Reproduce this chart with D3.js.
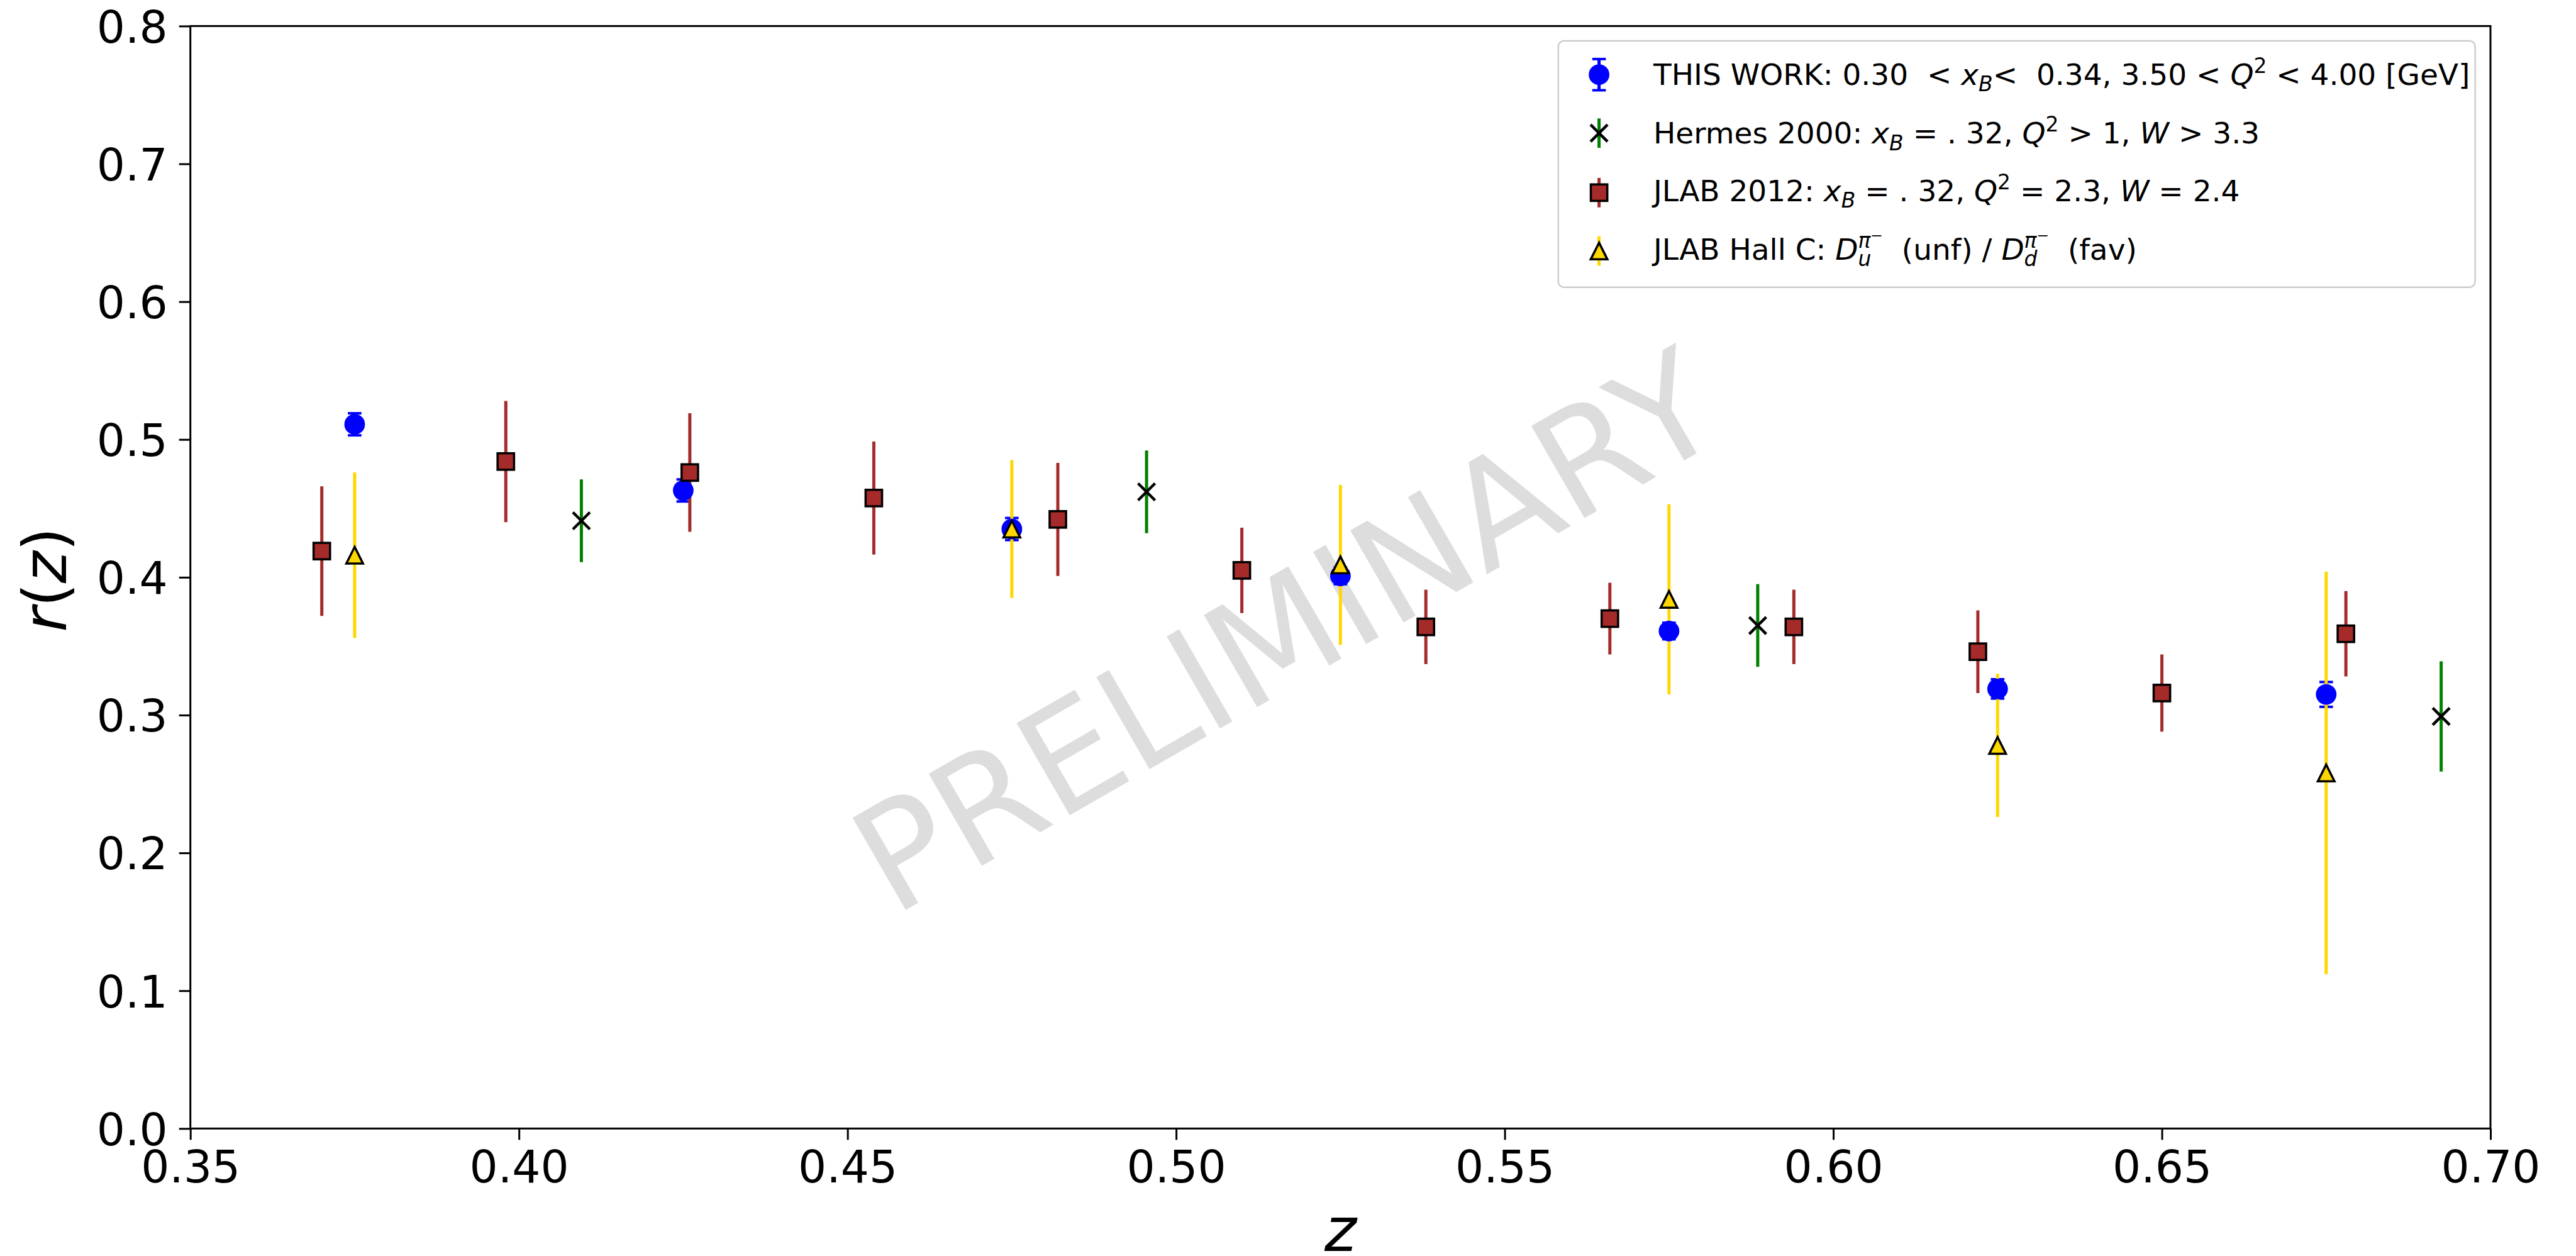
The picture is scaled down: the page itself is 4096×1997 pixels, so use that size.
<!DOCTYPE html>
<html>
<head>
<meta charset="utf-8">
<script src="https://cdn.jsdelivr.net/npm/d3@7"></script>
<style>
  html, body { margin: 0; padding: 0; background: #ffffff; }
  svg { display: block; }
  text { font-family: "DejaVu Sans", sans-serif; fill: #000; }
</style>
</head>
<body>
<svg id="chart" width="4096" height="1997"></svg>
<script>
// ---- axis ticks ----
const zTicks = [0.35, 0.40, 0.45, 0.50, 0.55, 0.60, 0.65, 0.70];
const rTicks = [0.0, 0.1, 0.2, 0.3, 0.4, 0.5, 0.6, 0.7, 0.8];

// ---- THIS WORK ----
const workZ   = [0.375, 0.425, 0.475, 0.525, 0.575, 0.625, 0.675];
const workR   = [0.511, 0.463, 0.435, 0.401, 0.361, 0.319, 0.315];
const workErr = [0.008, 0.008, 0.008, 0.006, 0.006, 0.007, 0.009];

// ---- Hermes 2000 ----
const hermesZ   = [0.4095, 0.4955, 0.5885, 0.6925];
const hermesR   = [0.441, 0.462, 0.365, 0.299];
const hermesErr = [0.030, 0.030, 0.030, 0.040];

// ---- JLAB 2012 ----
const jlabZ   = [0.370, 0.398, 0.426, 0.454, 0.482, 0.510, 0.538, 0.566, 0.594, 0.622, 0.650, 0.678];
const jlabR   = [0.419, 0.484, 0.476, 0.4575, 0.442, 0.405, 0.364, 0.370, 0.364, 0.346, 0.316, 0.359];
const jlabErr = [0.047, 0.044, 0.043, 0.041, 0.041, 0.031, 0.027, 0.026, 0.027, 0.030, 0.028, 0.031];

// ---- JLAB Hall C ----
const hallcZ   = [0.375, 0.475, 0.525, 0.575, 0.625, 0.675];
const hallcR   = [0.416, 0.435, 0.409, 0.384, 0.278, 0.258];
const hallcErr = [0.060, 0.050, 0.058, 0.069, 0.052, 0.146];

const zip = (zs, rs, es) => zs.map((z, i) => ({ z: z, r: rs[i], e: es[i] }));

const series = [
  { key: "work",   data: zip(workZ, workR, workErr),       bar: "#0000ff", caps: true,  marker: "circle" },
  { key: "hermes", data: zip(hermesZ, hermesR, hermesErr), bar: "#008000", caps: false, marker: "x" },
  { key: "jlab",   data: zip(jlabZ, jlabR, jlabErr),       bar: "#a52a2a", caps: false, marker: "square" },
  { key: "hallc",  data: zip(hallcZ, hallcR, hallcErr),    bar: "#ffd700", caps: false, marker: "triangle" }
];

// ---- layout ----
const svg = d3.select("#chart");
const L = 302.7, R = 3960, T = 41.4, B = 1794.3;
const x = d3.scaleLinear().domain([0.35, 0.70]).range([L, R]);
const y = d3.scaleLinear().domain([0.0, 0.8]).range([B, T]);

const tickFS = 71;
const barW = 5;
const capHalf = 10.8;
const sty = {
  circleR: 16.4,
  square: 26.2,
  tri: 26.5,
  xHalf: 13.5,
  edge: 3.5
};

// watermark
svg.append("text")
  .attr("transform", "translate(2052,996) rotate(-30)")
  .attr("x", -11)
  .attr("y", 0.729 * 232 / 2)
  .attr("text-anchor", "middle")
  .attr("font-size", 232)
  .style("fill", "#dddddd")
  .text("PRELIMINARY");

// axes
const xAxis = d3.axisBottom(x).tickValues(zTicks).tickFormat(d3.format(".2f"))
  .tickSize(18).tickPadding(17.6);
const yAxis = d3.axisLeft(y).tickValues(rTicks).tickFormat(d3.format(".1f"))
  .tickSize(18).tickPadding(18);

const gx = svg.append("g").attr("transform", `translate(0,${B})`).call(xAxis);
const gy = svg.append("g").attr("transform", `translate(${L},0)`).call(yAxis);
[gx, gy].forEach(g => {
  g.select(".domain").remove();
  g.selectAll(".tick line").attr("stroke", "#000").attr("stroke-width", 3);
  g.selectAll(".tick text").attr("font-size", tickFS).attr("font-family", "DejaVu Sans").attr("fill", "#000");
});
gy.selectAll(".tick text").attr("dy", "0.365em");

// frame
svg.append("rect")
  .attr("x", L).attr("y", T).attr("width", R - L).attr("height", B - T)
  .attr("fill", "none").attr("stroke", "#000").attr("stroke-width", 3);

// marker drawing helpers
function drawMarker(g, kind, cx, cy) {
  if (kind === "circle") {
    g.append("circle").attr("cx", cx).attr("cy", cy).attr("r", sty.circleR).attr("fill", "#0000ff");
  } else if (kind === "square") {
    g.append("rect").attr("x", cx - sty.square / 2).attr("y", cy - sty.square / 2)
      .attr("width", sty.square).attr("height", sty.square)
      .attr("fill", "#a52a2a").attr("stroke", "#000").attr("stroke-width", sty.edge)
      .attr("stroke-linejoin", "miter");
  } else if (kind === "triangle") {
    const h = sty.tri / 2;
    const p = d3.path();
    p.moveTo(cx, cy - h); p.lineTo(cx + h, cy + h); p.lineTo(cx - h, cy + h); p.closePath();
    g.append("path").attr("d", p.toString())
      .attr("fill", "#ffd700").attr("stroke", "#000").attr("stroke-width", sty.edge)
      .attr("stroke-linejoin", "miter");
  } else if (kind === "x") {
    const h = sty.xHalf;
    const p = d3.path();
    p.moveTo(cx - h, cy - h); p.lineTo(cx + h, cy + h);
    p.moveTo(cx - h, cy + h); p.lineTo(cx + h, cy - h);
    g.append("path").attr("d", p.toString()).attr("fill", "none")
      .attr("stroke", "#000").attr("stroke-width", 4.5);
  }
}

function drawBar(g, color, caps, cx, yTop, yBot) {
  g.append("line").attr("x1", cx).attr("x2", cx).attr("y1", yTop).attr("y2", yBot)
    .attr("stroke", color).attr("stroke-width", barW);
  if (caps) {
    [yTop, yBot].forEach(yy => {
      g.append("line").attr("x1", cx - capHalf).attr("x2", cx + capHalf).attr("y1", yy).attr("y2", yy)
        .attr("stroke", color).attr("stroke-width", 4);
    });
  }
}

// error bars first, then markers on top
const plot = svg.append("g");
const barsG = plot.append("g");
const marksG = plot.append("g");
series.forEach(s => {
  s.data.forEach(d => drawBar(barsG, s.bar, s.caps, x(d.z), y(d.r + d.e), y(d.r - d.e)));
});
series.forEach(s => {
  s.data.forEach(d => drawMarker(marksG, s.marker, x(d.z), y(d.r)));
});

// axis titles
svg.append("text")
  .attr("x", (L + R) / 2).attr("y", 1988.5)
  .attr("text-anchor", "middle").attr("font-size", 97)
  .attr("font-style", "italic").text("z");

const yl = svg.append("text")
  .attr("transform", "translate(105.4,921.7) rotate(-90)")
  .attr("text-anchor", "middle").attr("font-size", 97);
yl.append("tspan").attr("font-style", "italic").text("r");
yl.append("tspan").text("(");
yl.append("tspan").attr("font-style", "italic").text("z");
yl.append("tspan").text(")");

// legend
const legFS = 47;
const lg = svg.append("g");
lg.append("rect")
  .attr("x", 2477.8).attr("y", 64.9).attr("width", 3935.6 - 2477.8).attr("height", 456.8 - 64.9)
  .attr("rx", 9).attr("ry", 9)
  .attr("fill", "#ffffff").attr("fill-opacity", 0.8)
  .attr("stroke", "#cccccc").attr("stroke-width", 2.5);

function rich(g, tx, ty, segs, fs) {
  const t = g.append("text").attr("x", tx).attr("y", ty).attr("font-size", fs)
    .style("white-space", "pre");
  let shift = 0;
  const widths = [];
  segs.forEach(s => {
    const lvl = s.lvl || 0;
    const sz = [1, 0.7, 0.7, 0.5][lvl] * fs;
    const off = [0, 0.22, -0.4, -0.66][lvl] * fs;
    const ts = t.append("tspan").attr("font-size", sz).attr("dy", off - shift).text(s.t);
    if (s.it) ts.attr("font-style", "italic");
    if (s.dx) ts.attr("dx", s.dx(widths));
    shift = off;
    widths.push(ts.node().getComputedTextLength());
  });
  return t;
}

const legendRows = [
  { cy: 118.7, base: 135.0, marker: "circle", color: "#0000ff", caps: true, half: 24.8,
    segs: [
      { t: "THIS WORK: 0.30  < " }, { t: "x", it: true }, { t: "B", it: true, lvl: 1 },
      { t: "<  0.34, 3.50 < " }, { t: "Q", it: true }, { t: "2", lvl: 2 },
      { t: " < 4.00 [GeV]" }
    ] },
  { cy: 211.7, base: 228.2, marker: "x", color: "#008000", caps: false, half: 23.4,
    segs: [
      { t: "Hermes 2000: " }, { t: "x", it: true }, { t: "B", it: true, lvl: 1 },
      { t: " = . 32, " }, { t: "Q", it: true }, { t: "2", lvl: 2 },
      { t: " > 1, " }, { t: "W", it: true }, { t: " > 3.3" }
    ] },
  { cy: 306.3, base: 320.0, marker: "square", color: "#a52a2a", caps: false, half: 23.4,
    segs: [
      { t: "JLAB 2012: " }, { t: "x", it: true }, { t: "B", it: true, lvl: 1 },
      { t: " = . 32, " }, { t: "Q", it: true }, { t: "2", lvl: 2 },
      { t: " = 2.3, " }, { t: "W", it: true }, { t: " = 2.4" }
    ] },
  { cy: 399.1, base: 413.0, marker: "triangle", color: "#ffd700", caps: false, half: 23.4,
    segs: [
      { t: "JLAB Hall C: " }, { t: "D", it: true },
      { t: "\u03c0", it: true, lvl: 2 }, { t: "\u2212", lvl: 3 },
      { t: "u", it: true, lvl: 1, dx: w => -(w[w.length - 1] + w[w.length - 2]) },
      { t: "  (unf) / ", dx: w => Math.max(0, w[w.length - 3] + w[w.length - 2] - w[w.length - 1]) },
      { t: "D", it: true },
      { t: "\u03c0", it: true, lvl: 2 }, { t: "\u2212", lvl: 3 },
      { t: "d", it: true, lvl: 1, dx: w => -(w[w.length - 1] + w[w.length - 2]) },
      { t: "  (fav)", dx: w => Math.max(0, w[w.length - 3] + w[w.length - 2] - w[w.length - 1]) }
    ] }
];

const legMX = 2542.6, legTX = 2629;
legendRows.forEach(row => {
  drawBar(lg, row.color, row.caps, legMX, row.cy - row.half, row.cy + row.half);
  drawMarker(lg, row.marker, legMX, row.cy);
  rich(lg, legTX, row.base, row.segs, legFS);
});
</script>
</body>
</html>
